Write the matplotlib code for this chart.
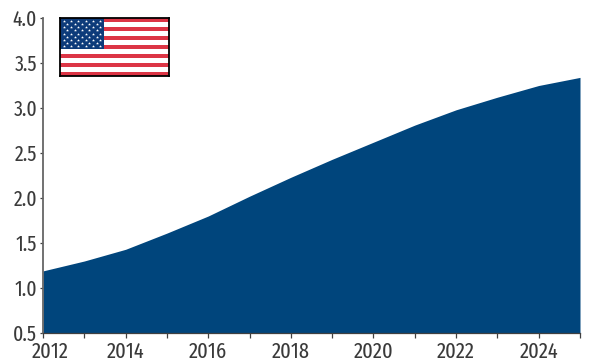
import numpy as np
import matplotlib
matplotlib.use('Agg')
import matplotlib.pyplot as plt
from matplotlib.transforms import ScaledTranslation

years = [2012, 2013, 2014, 2015, 2016, 2017, 2018, 2019, 2020, 2021, 2022, 2023, 2024, 2025]
values = [1.19, 1.30, 1.43, 1.61, 1.80, 2.02, 2.23, 2.43, 2.62, 2.81, 2.98, 3.12, 3.25, 3.34]
x_tick_labels = ['2012', '', '2014', '', '2016', '', '2018', '', '2020', '', '2022', '', '2024', '']
y_ticks = [0.5, 1.0, 1.5, 2.0, 2.5, 3.0, 3.5, 4.0]

plt.rcParams['font.family'] = ['Fira Sans Extra Condensed', 'Barlow Condensed', 'Liberation Sans', 'DejaVu Sans']

W, H = 589, 364
fig = plt.figure(figsize=(W / 100, H / 100), dpi=100)
ax = fig.add_axes([43 / W, 1 - 333 / H, 537 / W, 315 / H])

ax.fill_between(years, values, 0.5, color='#00457c', linewidth=0)
ax.set_xlim(2012, 2025)
ax.set_ylim(0.5, 4.0)
ax.set_xticks(years)
ax.set_xticklabels(x_tick_labels)
ax.set_yticks(y_ticks)
ax.set_yticklabels([f'{v:.1f}' for v in y_ticks])
ax.tick_params(axis='x', direction='out', length=3.6, width=0.9, color='#404040',
               labelsize=16, labelcolor='#3a3a3a', pad=2.5)
ax.tick_params(axis='y', direction='out', length=2.2, width=0.9, color='#404040',
               labelsize=15.5, labelcolor='#3a3a3a', pad=2)

# first year label sits a little to the right of its tick
first = ax.get_xticklabels()[0]
first.set_transform(first.get_transform() + ScaledTranslation(7 / 100, 0, fig.dpi_scale_trans))

for side in ['top', 'right']:
    ax.spines[side].set_visible(False)
ax.spines['left'].set_color('#666666')
ax.spines['left'].set_linewidth(1.3)
ax.spines['bottom'].set_color('#404040')
ax.spines['bottom'].set_linewidth(0.9)

# flag inset
flag = fig.add_axes([60 / W, 1 - 76 / H, 109 / W, 58 / H])
flag.set_xlim(0, 1.9)
flag.set_ylim(13, 0)
for i in range(13):
    flag.axhspan(i, i + 1, color='#dc3545' if i % 2 == 0 else 'white', linewidth=0)
flag.axhspan(0, 7, xmin=0, xmax=0.405, color='#0d3b7a', linewidth=0)

# stars: alternating rows of 6 and 5
canton_w = 0.405 * 1.9
for row in range(9):
    n = 6 if row % 2 == 0 else 5
    xs = (np.arange(n) + (1 if row % 2 == 0 else 2) * 0.5) * canton_w / 6
    ys = np.full(n, (row + 1) * 7 / 10)
    flag.scatter(xs, ys, s=5, marker='*', color='white', linewidths=0)

flag.set_xticks([])
flag.set_yticks([])
for s in flag.spines.values():
    s.set_linewidth(1.3)
    s.set_color('black')

fig.savefig('out.png', dpi=100)
